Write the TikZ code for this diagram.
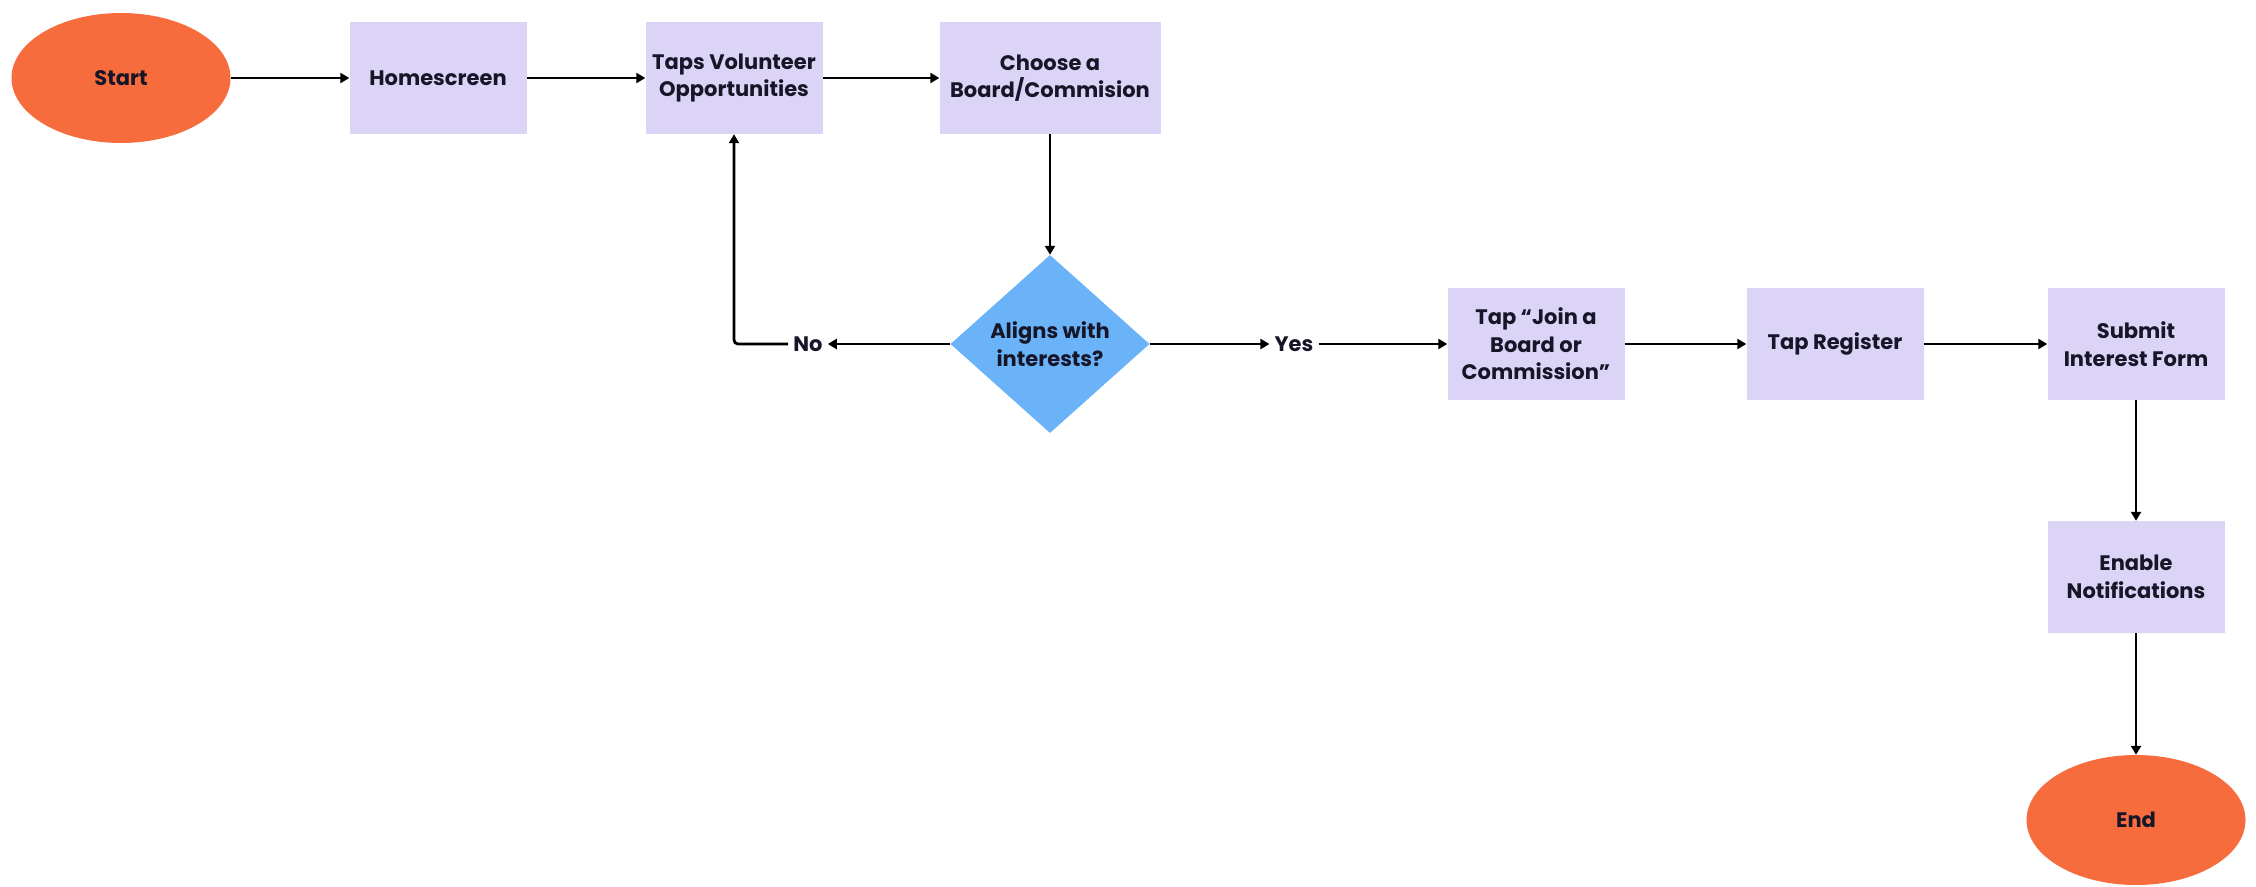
\documentclass[tikz,border=0pt]{standalone}
\usepackage{fontspec}
\setmainfont{Poppins}
\usetikzlibrary{shapes.geometric,arrows.meta}
\definecolor{flowlilac}{RGB}{220,212,246}
\definecolor{flowblue}{RGB}{106,179,248}
\definecolor{floworange}{RGB}{247,108,60}
\definecolor{flowink}{RGB}{22,22,40}

\begin{document}
\begin{tikzpicture}[x=1pt,y=-1pt,
  every node/.style={font=\bfseries\fontsize{21}{27.5}\selectfont,text=flowink,align=center},
  stepbox/.style={rectangle,fill=flowlilac,minimum width=177,minimum height=112,inner sep=0},
  terminal/.style={ellipse,fill=floworange,minimum width=219,minimum height=130,inner sep=0},
  decision/.style={diamond,fill=flowblue,minimum width=199,minimum height=178,inner sep=0},
  answer/.style={inner sep=5},
  flow/.style={draw=black,line width=2.8pt,-{Triangle[length=9pt,width=10pt]}}]
  \useasboundingbox (0,0) rectangle (2256,886);

  \node[terminal] (start) at (121,78) {Start};
  \node[stepbox] (home) at (438,78) {Homescreen};
  \node[stepbox] (taps) at (734,78) {Taps Volunteer\\Opportunities};
  \node[stepbox,minimum width=221] (choose) at (1050,78) {Choose a\\Board/Commision};
  \node[decision,label={center:Aligns with\\interests?}] (align) at (1050,344) {};
  \node[answer] (no) at (808,344) {No};
  \node[answer] (yes) at (1294,344) {Yes};
  \node[stepbox] (join) at (1536,344) {Tap “Join a\\Board or\\Commission”};
  \node[stepbox] (reg) at (1835,344) {Tap Register};
  \node[stepbox] (submit) at (2136,344) {Submit\\Interest Form};
  \node[stepbox] (notify) at (2136,577) {Enable\\Notifications};
  \node[terminal] (end) at (2136,820) {End};

  \foreach \a/\b in {start/home,home/taps,taps/choose,choose/align,join/reg,reg/submit,submit/notify,notify/end}
    \draw[flow] (\a) -- (\b);
  \draw[flow] (align.west) -- (no.east);
  \draw[flow,rounded corners=4pt] (no.west) -| (taps.south);
  \draw[flow] (align.east) -- (yes.west);
  \draw[flow] (yes.east) -- (join.west);
\end{tikzpicture}
\end{document}
